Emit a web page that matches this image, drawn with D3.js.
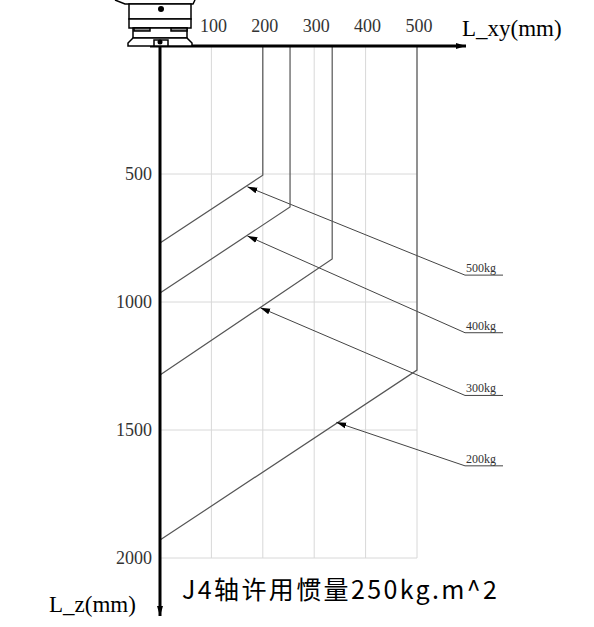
<!DOCTYPE html>
<meta charset="utf-8">
<script src="https://d3js.org/d3.v7.min.js"></script>
<style>body{margin:0;background:#fff}</style>
<div id="chart"></div>
<script>
// data (mm)
const xTicks = [100, 200, 300, 400, 500];
const zTicks = [500, 1000, 1500, 2000];
const loads = ["500kg", "400kg", "300kg", "200kg"];
const reachX = [200, 253, 335, 500];      // vertical segment position
const cornerZ = [505, 629, 832, 1266];    // where the slope begins
const endZ = [770, 965, 1285, 1930];      // slope meets L_xy = 0
const arrowTip = [[170, 550], [170, 742], [195, 1022], [343, 1470]];
const labelZ = [895, 1120, 1365, 1640];

const W = 594, H = 627;
const x = d3.scaleLinear().domain([0, 500]).range([160, 417]);
const z = d3.scaleLinear().domain([0, 2000]).range([46, 558]);
const serif = "'Liberation Serif', 'DejaVu Serif', serif";

const svg = d3.select("#chart").append("svg").attr("width", W).attr("height", H);
svg.append("defs").append("marker").attr("id", "ah")
  .attr("viewBox", "0 0 10 10").attr("refX", 10).attr("refY", 5)
  .attr("markerWidth", 10).attr("markerHeight", 10).attr("orient", "auto")
  .attr("markerUnits", "userSpaceOnUse")
  .append("path").attr("d", "M0,2L10,5L0,8Z").attr("fill", "#000");

// grid
svg.selectAll(".gv").data(xTicks).join("line")
  .attr("x1", d => x(d)).attr("x2", d => x(d)).attr("y1", z(0)).attr("y2", z(2000))
  .attr("stroke", "#d8d8d8");
svg.selectAll(".gh").data(zTicks).join("line")
  .attr("x1", x(0)).attr("x2", x(500)).attr("y1", d => z(d)).attr("y2", d => z(d))
  .attr("stroke", "#d8d8d8");

// curves
const line = d3.line().x(d => x(d[0])).y(d => z(d[1]));
loads.forEach((l, i) => {
  svg.append("path")
    .attr("d", line([[reachX[i], 0], [reachX[i], cornerZ[i]], [0, endZ[i]]]))
    .attr("fill", "none").attr("stroke", "#555").attr("stroke-width", 1.2);
  const ly = z(labelZ[i]);
  svg.append("line").attr("x1", 503).attr("y1", ly).attr("x2", 465).attr("y2", ly)
    .attr("stroke", "#444");
  svg.append("line").attr("x1", 465).attr("y1", ly)
    .attr("x2", x(arrowTip[i][0])).attr("y2", z(arrowTip[i][1]))
    .attr("stroke", "#444").attr("marker-end", "url(#ah)");
  svg.append("text").attr("x", 466).attr("y", ly - 3).text(l)
    .style("font-family", serif).attr("font-size", 12).attr("fill", "#333");
});

// axes
svg.append("line").attr("x1", 150).attr("x2", 466).attr("y1", z(0)).attr("y2", z(0))
  .attr("stroke", "#000").attr("stroke-width", 3).attr("marker-end", "url(#ah)");
svg.append("line").attr("x1", x(0)).attr("x2", x(0)).attr("y1", 40).attr("y2", 616)
  .attr("stroke", "#000").attr("stroke-width", 3).attr("marker-end", "url(#ah)");

svg.selectAll(".xt").data(xTicks).join("text")
  .attr("x", d => x(d) + 2).attr("y", 32).attr("text-anchor", "middle")
  .style("font-family", serif).attr("font-size", 18).attr("fill", "#333").text(d => d);
svg.selectAll(".zt").data(zTicks).join("text")
  .attr("x", 152).attr("y", d => z(d) + 6).attr("text-anchor", "end")
  .style("font-family", serif).attr("font-size", 18).attr("fill", "#333").text(d => d);
svg.append("text").attr("x", 462).attr("y", 36).style("font-family", serif)
  .attr("font-size", 23).text("L_xy(mm)");
svg.append("text").attr("x", 49).attr("y", 612).style("font-family", serif)
  .attr("font-size", 23).text("L_z(mm)");
svg.append("text").attr("x", 182).attr("y", 599).style("font-family", "'Noto Sans CJK SC'")
  .attr("font-size", 25).attr("textLength", 315).text("J4轴许用惯量250kg.m^2");

// robot base sketch
const g = svg.append("g").attr("fill", "#fff").attr("stroke", "#000").attr("stroke-width", 1.5);
g.append("path").attr("d", "M115,0 L125,4 L193,4 L195,0");
g.append("rect").attr("x", 129).attr("y", 4).attr("width", 62).attr("height", 15);
g.append("rect").attr("x", 129).attr("y", 19).attr("width", 62).attr("height", 9);
g.append("rect").attr("x", 133).attr("y", 28).attr("width", 54).attr("height", 10);
g.append("path").attr("d", "M133,38 L128,43 L128,46 L192,46 L192,43 L187,38Z");
g.append("rect").attr("x", 134).attr("y", 28).attr("width", 16).attr("height", 3).attr("fill", "#888");
g.append("rect").attr("x", 171).attr("y", 28).attr("width", 16).attr("height", 3).attr("fill", "#888");
g.append("rect").attr("x", 154).attr("y", 40).attr("width", 14).attr("height", 6);
svg.append("circle").attr("cx", 161).attr("cy", 9).attr("r", 3);
svg.append("circle").attr("cx", 160).attr("cy", 42).attr("r", 2.5);
</script>
